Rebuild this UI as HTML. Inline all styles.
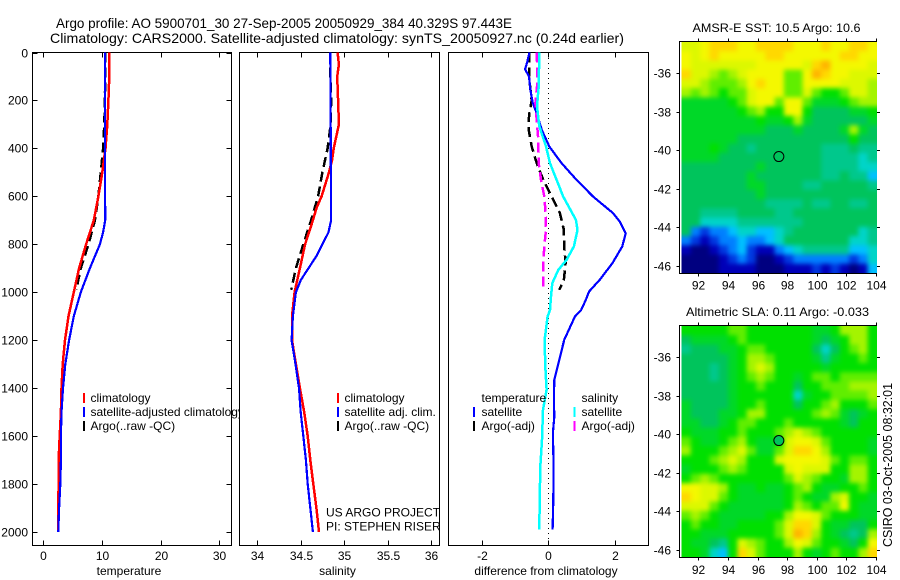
<!DOCTYPE html>
<html>
<head>
<meta charset="utf-8">
<title>Argo profile 5900701_30</title>
<style>
html,body{margin:0;padding:0;background:#fff;}
svg{display:block;}
text{font-family:"Liberation Sans",sans-serif;font-size:12px;fill:#000;}
</style>
</head>
<body>
<svg id="fig" xmlns="http://www.w3.org/2000/svg" width="900" height="580" viewBox="0 0 900 580">
<defs>
<filter id="mapBlur" x="-10%" y="-10%" width="120%" height="120%" color-interpolation-filters="sRGB"><feGaussianBlur stdDeviation="2.4"/></filter>
<clipPath id="clipSst"><rect x="681.5" y="42" width="195.5" height="231"/></clipPath>
<clipPath id="clipSla"><rect x="681.5" y="326" width="195.5" height="231"/></clipPath>
</defs>
<rect x="0" y="0" width="900" height="580" fill="#fff"/>
<text x="56" y="28" style="font-size:14px" textLength="456" lengthAdjust="spacingAndGlyphs">Argo profile: AO 5900701_30 27-Sep-2005 20050929_384 40.329S 97.443E</text>
<text x="50" y="43" style="font-size:14px" textLength="574" lengthAdjust="spacingAndGlyphs">Climatology: CARS2000. Satellite-adjusted climatology: synTS_20050927.nc (0.24d earlier)</text>
<text x="692.5" y="32" textLength="168" lengthAdjust="spacingAndGlyphs">AMSR-E SST: 10.5 Argo: 10.6</text>
<text x="686" y="316" textLength="183" lengthAdjust="spacingAndGlyphs">Altimetric SLA: 0.11 Argo: -0.033</text>
<text transform="translate(892,547) rotate(-90)" style="font-size:13px" textLength="164" lengthAdjust="spacingAndGlyphs">CSIRO 03-Oct-2005 08:32:01</text>
</svg>
<script>
// ---- depth axis ----
var depthTicks = [0,200,400,600,800,1000,1200,1400,1600,1800,2000];

// ---- temperature panel ----
var tempTicks = [0,10,20,30];
var tempClimDepth = [0,100,200,300,400,500,600,700,800,900,1000,1100,1200,1300,1400,1500,1600,1700,1800,1900,2000];
var tempClim = [11.25,11.25,11.1,10.9,10.6,10.05,9.4,8.6,7.3,6.1,5.2,4.3,3.7,3.3,3.1,3.0,2.8,2.6,2.6,2.55,2.55];
var tempSatDepth = [0,300,700,750,800,900,1000,1100,1200,1300,1400,1500,1600,1700,1800,1900,2000];
var tempSat = [10.5,10.5,10.55,10.2,9.65,7.95,6.4,5.2,4.4,3.75,3.35,3.1,3.0,3.0,2.9,2.7,2.55];
var tempArgoDepth = [0,100,200,300,400,500,600,700,800,900,990];
var tempArgo = [10.55,10.55,10.5,10.4,10.2,9.8,9.4,8.8,7.7,6.4,5.6];

// ---- salinity panel ----
var salTicks = [34,34.5,35,35.5,36];
var salClimDepth = [0,50,100,200,300,350,400,450,500,600,650,700,800,900,1000,1100,1200,1300,1400,1500,1600,1700,1800,1900,2000];
var salClim = [34.925,34.94,34.92,34.93,34.94,34.91,34.88,34.86,34.825,34.74,34.68,34.64,34.55,34.49,34.43,34.40,34.40,34.445,34.49,34.54,34.58,34.61,34.645,34.68,34.71];
var salSatDepth = [0,700,750,800,850,900,950,1000,1100,1200,1300,1400,1500,1600,1700,1800,1900,2000];
var salSat = [34.84,34.85,34.82,34.75,34.68,34.59,34.50,34.445,34.41,34.395,34.44,34.48,34.50,34.53,34.56,34.58,34.61,34.64];
var salArgoDepth = [0,100,200,300,400,500,600,700,800,900,990];
var salArgo = [34.84,34.84,34.85,34.845,34.81,34.75,34.70,34.62,34.53,34.445,34.39];

// ---- difference panel ----
var diffTicks = [-2,0,2];
var diffTempSatDepth = [0,37,70,100,155,210,253,322,392,462,531,601,670,705,754,809,879,948,997,1032,1074,1102,1199,1282,1366,1449,1519,1588,1727,1866,1991];
var diffTempSat = [-0.57,-0.63,-0.7,-0.58,-0.54,-0.47,-0.35,-0.2,0.03,0.4,0.85,1.35,1.95,2.15,2.33,2.23,1.93,1.55,1.23,1.13,0.99,0.80,0.48,0.33,0.18,0.17,0.18,0.14,0.16,0.15,0.13];
var diffSalSatDepth = [0,72,142,225,308,392,462,531,601,698,740,809,865,907,962,1018,1074,1102,1199,1310,1407,1491,1616,1727,1866,1991];
var diffSalSat = [-0.27,-0.28,-0.29,-0.34,-0.27,-0.07,0.05,0.25,0.45,0.83,0.88,0.77,0.55,0.3,0.12,0.08,0.05,-0.02,-0.11,-0.09,-0.05,-0.16,-0.19,-0.24,-0.26,-0.27];
var diffTempArgoDepth = [0,100,200,253,281,322,392,462,531,601,670,740,809,879,948,990];
var diffTempArgo = [-0.57,-0.58,-0.5,-0.57,-0.59,-0.59,-0.5,-0.35,-0.15,0.1,0.35,0.47,0.48,0.52,0.47,0.33];
var diffSalArgoDepth = [0,72,142,211,281,364,462,531,601,670,740,809,879,990];
var diffSalArgo = [-0.35,-0.33,-0.34,-0.39,-0.35,-0.3,-0.29,-0.22,-0.12,-0.08,-0.07,-0.12,-0.15,-0.16];

// ---- map axes ----
var lonTicks = [92,94,96,98,100,102,104];
var latTicks = [-36,-38,-40,-42,-44,-46];
var floatLon = 97.443;
var floatLat = -40.329;

// ---- SST map: colour-level per cell ----
var sstRows = [
[12,12,13,14,14,14,13,13,14,14,14,14,13,13,13,14,13,13,14,14,13],
[13,12,13,14,13,13,13,13,13,14,14,13,13,13,13,13,13,14,14,13,13],
[13,12,12,12,12,12,12,12,13,13,13,13,13,12,14,15,13,13,13,13,12],
[14,12,12,11,10,11,12,13,13,13,13,10,10,13,15,14,13,13,12,12,12],
[12,12,11,10,10,10,11,13,14,13,13,10,10,13,13,13,13,12,12,12,11],
[11,10,11,10,9,10,10,12,13,13,13,10,10,12,10,9,9,10,12,12,11],
[8,8,8,8,8,9,10,12,13,13,10,13,13,10,8,8,8,9,10,11,11],
[8,8,8,8,8,8,9,10,11,9,9,13,13,9,7,7,7,7,8,8,9],
[8,8,8,8,8,8,8,8,9,8,8,9,11,8,7,7,7,7,7,7,8],
[8,8,8,8,8,8,8,8,8,7,7,7,8,7,7,7,7,8,11,8,7],
[8,8,8,8,8,8,7,7,7,7,7,7,7,7,7,7,7,7,9,7,7],
[8,8,8,9,8,7,7,6,7,7,7,7,7,7,7,6,6,6,7,6,6],
[8,8,8,8,7,7,7,7,7,7,7,7,7,7,7,6,6,6,6,5,6],
[7,7,7,7,7,7,7,7,8,7,7,7,7,7,7,6,6,6,6,5,5],
[7,7,7,7,7,7,7,8,7,7,7,7,7,7,7,6,6,7,6,6,4],
[7,7,7,7,7,7,7,8,8,7,7,7,7,6,6,7,7,7,7,7,6],
[7,7,7,7,7,7,7,7,8,7,7,7,7,7,7,7,7,7,7,7,7],
[7,7,7,7,7,7,7,7,7,6,6,6,6,7,6,6,7,7,6,6,7],
[7,7,6,6,6,6,7,7,7,7,6,6,7,7,7,7,7,7,7,7,7],
[7,7,5,5,5,5,6,6,6,6,6,6,6,7,7,7,7,7,7,7,7],
[7,3,2,3,3,4,5,5,4,4,5,6,7,7,7,7,7,7,7,5,6],
[3,2,1,2,3,3,4,3,3,4,5,7,7,7,7,7,7,7,5,5,6],
[1,0,0,1,2,3,4,2,1,1,3,4,5,6,6,6,6,6,4,4,5],
[0,0,0,0,1,2,3,2,0,0,1,2,3,3,3,3,3,3,2,3,5],
[0,0,0,0,1,1,1,1,0,0,0,1,1,1,2,1,2,1,0,1,4]
];

// ---- SLA map: colour-level per cell ----
var slaRows = [
[9,9,9,9,9,10,10,9,9,9,9,9,9,9,8,8,9,11,11,11,9],
[7,8,8,8,8,9,10,9,9,9,9,9,9,9,8,7,8,9,11,11,9],
[6,7,7,7,8,8,9,10,10,9,9,9,9,9,7,5,7,9,10,11,9],
[7,7,7,7,7,8,9,11,11,10,9,9,9,9,8,6,8,9,9,10,9],
[7,7,7,6,7,8,9,11,12,11,9,9,9,9,9,8,9,9,9,9,9],
[7,7,7,6,7,8,9,10,11,10,9,9,8,9,10,10,9,10,10,10,10],
[7,7,7,7,7,8,9,9,10,9,9,9,7,9,9,10,10,10,11,11,11],
[7,7,7,7,7,8,9,9,9,9,9,9,5,8,9,9,10,10,10,10,11],
[8,7,7,7,7,8,9,9,10,9,9,9,7,9,9,10,11,9,9,9,10],
[8,7,7,7,8,8,9,11,11,9,9,9,9,9,10,11,10,8,7,8,9],
[8,8,7,7,8,9,10,10,9,9,9,10,9,9,9,9,9,8,7,9,9],
[9,8,8,8,9,9,10,9,9,9,10,11,12,11,10,9,9,9,9,9,9],
[10,9,8,8,9,10,11,9,8,8,9,12,13,13,12,10,9,9,9,9,8],
[11,9,9,9,10,11,12,10,8,8,10,12,14,14,13,11,9,9,9,9,8],
[9,9,9,10,11,12,11,9,9,9,12,13,13,13,13,12,10,9,10,10,9],
[8,9,9,9,10,11,10,9,9,9,9,12,13,12,12,12,9,9,11,11,9],
[9,10,11,10,9,9,9,9,9,9,9,10,12,11,10,9,9,8,11,11,9],
[13,13,12,12,11,9,8,8,9,8,8,9,10,11,9,8,8,9,9,10,9],
[14,13,12,12,10,9,8,8,8,8,8,9,10,9,8,8,11,12,9,9,8],
[12,12,12,10,9,8,8,8,8,8,8,9,11,10,9,10,10,13,9,8,8],
[10,11,10,9,8,8,8,8,8,9,9,11,13,13,12,10,9,9,9,8,8],
[9,10,9,9,8,8,9,9,9,9,10,12,14,14,12,9,8,8,7,7,9],
[9,9,8,8,8,9,9,9,9,9,10,12,15,14,11,9,8,7,6,7,11],
[9,8,8,7,6,9,12,11,10,9,9,11,13,12,10,9,9,8,7,9,13],
[9,9,8,5,4,9,14,12,10,9,9,9,11,9,8,9,10,9,9,11,14]
];

var colorLevels = ['#000080','#0000b8','#0038e0','#0080ff','#00c0ff','#00d4c8','#00c88c','#00c45c','#00d828','#00e000','#60ee00','#a4f400','#dcf800','#f4f800','#ffd800','#ffb400'];

var NS = 'http://www.w3.org/2000/svg';
var fig = document.getElementById('fig');

function mk(tag, attrs, parent) {
  var el = document.createElementNS(NS, tag);
  for (var k in attrs) el.setAttribute(k, attrs[k]);
  (parent || fig).appendChild(el);
  return el;
}
function yDepth(d) { return 52.5 + d * 0.2397; }
function xTemp(v) { return 43.3 + v * 5.867; }
function xSal(v) { return 257.3 + (v - 34) * 86.85; }
function xDiff(v) { return 548.3 + v * 33.2; }
function xLon(v) { return 698.3 + (v - 92) * 14.8; }
function ySst(v) { return 73 + (-36 - v) * 19.3; }
function ySla(v) { return 357 + (-36 - v) * 19.3; }

function drawProfile(depths, values, xFn, color, width, dashed, name) {
  var pts = depths.map(function (d, i) { return xFn(values[i]).toFixed(1) + ',' + yDepth(d).toFixed(1); }).join(' ');
  var el = mk('polyline', {points: pts, fill: 'none', stroke: color, 'stroke-width': width, 'shape-rendering': 'crispEdges'});
  if (dashed) el.setAttribute('stroke-dasharray', '10 5');
  
  
}

function drawPanel(left, right, ticks, xFn, xlabel, labelX, name) {
  var bg = mk('rect', {x: left, y: 52.5, width: right - left, height: 493, fill: '#fff', stroke: '#000', 'stroke-width': 1, 'shape-rendering': 'crispEdges'});
  
  
  ticks.forEach(function (t) {
    var x = Math.round(xFn(t)) + 0.5;
    var tk = mk('path', {d: 'M' + x + ' 52.5v5M' + x + ' 545.5v-5', stroke: '#000', fill: 'none', 'shape-rendering': 'crispEdges'});
    
    
    var lb = mk('text', {x: x, y: 560, 'text-anchor': 'middle'});
    lb.textContent = String(t);
    
    
  });
  var xl = mk('text', {x: labelX, y: 575, 'text-anchor': 'middle'});
  xl.textContent = xlabel;
  
  
}

function legendRow(barX, textX, rowY, color, label, name) {
  if (color) {
    var b = mk('rect', {x: barX, y: rowY - 5, width: 2, height: 10, fill: color, 'shape-rendering': 'crispEdges'});
    
    
  }
  var t = mk('text', {x: textX, y: rowY + 4});
  t.textContent = label;
  
  
}

// ---- panel 1: temperature ----
drawPanel(32.5, 231.5, tempTicks, xTemp, 'temperature', 129, 'temperature-panel');
depthTicks.forEach(function (d) {
  var y = Math.round(yDepth(d)) + 0.5;
  var tk = mk('path', {d: 'M32.5 ' + y + 'h5M231.5 ' + y + 'h-5', stroke: '#000', fill: 'none', 'shape-rendering': 'crispEdges'});
  
  
  var lb = mk('text', {x: 28, y: y + 4, 'text-anchor': 'end'});
  lb.textContent = String(d);
  
  
});
drawProfile(tempArgoDepth, tempArgo, xTemp, '#000', 2.5, true, 'temperature-argo-line');
drawProfile(tempClimDepth, tempClim, xTemp, '#f00', 2.5, false, 'temperature-climatology-line');
drawProfile(tempSatDepth, tempSat, xTemp, '#00f', 2.2, false, 'temperature-satellite-line');
legendRow(83, 90.5, 398, '#f00', 'climatology', 'temperature-legend-climatology');
legendRow(83, 90.5, 412, '#00f', 'satellite-adjusted climatology', 'temperature-legend-satellite');
legendRow(83, 90.5, 426, '#000', 'Argo(..raw -QC)', 'temperature-legend-argo');

// ---- panel 2: salinity ----
drawPanel(239.5, 439.5, salTicks, xSal, 'salinity', 337.5, 'salinity-panel');
drawProfile(salArgoDepth, salArgo, xSal, '#000', 2.5, true, 'salinity-argo-line');
drawProfile(salClimDepth, salClim, xSal, '#f00', 2.5, false, 'salinity-climatology-line');
drawProfile(salSatDepth, salSat, xSal, '#00f', 2.2, false, 'salinity-satellite-line');
legendRow(337, 344.5, 398, '#f00', 'climatology', 'salinity-legend-climatology');
legendRow(337, 344.5, 412, '#00f', 'satellite adj. clim.', 'salinity-legend-satellite');
legendRow(337, 344.5, 426, '#000', 'Argo(..raw -QC)', 'salinity-legend-argo');
var credit1 = mk('text', {x: 326, y: 516.5});
credit1.textContent = 'US ARGO PROJECT';


var credit2 = mk('text', {x: 326, y: 530.5});
credit2.textContent = 'PI: STEPHEN RISER';



// ---- panel 3: difference ----
drawPanel(448.5, 648.5, diffTicks, xDiff, 'difference from climatology', 546, 'difference-panel');
var zero = mk('line', {x1: xDiff(0), y1: 53, x2: xDiff(0), y2: 545, stroke: '#000', 'stroke-width': 1, 'stroke-dasharray': '1 4', 'shape-rendering': 'crispEdges'});


drawProfile(diffTempArgoDepth, diffTempArgo, xDiff, '#000', 2.5, true, 'difference-temperature-argo-line');
drawProfile(diffTempSatDepth, diffTempSat, xDiff, '#00f', 2.2, false, 'difference-temperature-satellite-line');
drawProfile(diffSalArgoDepth, diffSalArgo, xDiff, '#f0f', 2.5, true, 'difference-salinity-argo-line');
drawProfile(diffSalSatDepth, diffSalSat, xDiff, '#0ff', 2.5, false, 'difference-salinity-satellite-line');
legendRow(473, 481.5, 398, null, 'temperature', 'difference-legend-temperature-heading');
legendRow(473, 481.5, 412, '#00f', 'satellite', 'difference-legend-temperature-satellite');
legendRow(473, 481.5, 426, '#000', 'Argo(-adj)', 'difference-legend-temperature-argo');
legendRow(573.5, 581.5, 398, null, 'salinity', 'difference-legend-salinity-heading');
legendRow(573.5, 581.5, 412, '#0ff', 'satellite', 'difference-legend-salinity-satellite');
legendRow(573.5, 581.5, 426, '#f0f', 'Argo(-adj)', 'difference-legend-salinity-argo');

// ---- maps ----
function drawMap(rows, top, bottom, yFn, labelY, name, circleFill, clipId) {
  var left = 681.5, right = 877;
  var cw = (right - left) / rows[0].length, ch = (bottom - top) / rows.length;
  var clipGroup = mk('g', {'clip-path': 'url(#' + clipId + ')'});
  
  
  var blurGroup = mk('g', {filter: 'url(#mapBlur)'}, clipGroup);
  
  
  var pad = 12;
  rows.forEach(function (row, r) {
    row.forEach(function (level, c) {
      // border cells bleed outward so the smoothing does not fade at the clip edge
      var x0 = left + c * cw - (c === 0 ? pad : 0);
      var y0 = top + r * ch - (r === 0 ? pad : 0);
      var x1 = left + (c + 1) * cw + (c === row.length - 1 ? pad : 0.4);
      var y1 = top + (r + 1) * ch + (r === rows.length - 1 ? pad : 0.4);
      var cell = mk('rect', {x: x0.toFixed(2), y: y0.toFixed(2), width: (x1 - x0).toFixed(2), height: (y1 - y0).toFixed(2), fill: colorLevels[level]}, blurGroup);
      
      
    });
  });
  var fr = mk('path', {d: 'M877 ' + (top - 0.5) + 'H679.5V' + (bottom + 0.5) + 'H877', fill: 'none', stroke: '#000', 'shape-rendering': 'crispEdges'});
  
  
  lonTicks.forEach(function (t) {
    var x = Math.round(xLon(t)) + 0.5;
    var tk = mk('path', {d: 'M' + x + ' ' + (top - 0.5) + 'v-3M' + x + ' ' + (bottom + 0.5) + 'v3', stroke: '#000', fill: 'none', 'shape-rendering': 'crispEdges'});
    
    
    var lb = mk('text', {x: x, y: labelY, 'text-anchor': 'middle'});
    lb.textContent = String(t);
    
    
  });
  latTicks.forEach(function (t) {
    var y = Math.round(yFn(t)) + 0.5;
    var tk = mk('path', {d: 'M679.5 ' + y + 'h-3M877 ' + y + 'h3', stroke: '#000', fill: 'none', 'shape-rendering': 'crispEdges'});
    
    
    var lb = mk('text', {x: 671, y: y + 4, 'text-anchor': 'end'});
    lb.textContent = String(t);
    
    
  });
  var mark = mk('circle', {cx: xLon(floatLon), cy: yFn(floatLat), r: 5, fill: circleFill, stroke: '#000', 'stroke-width': 1});
  
  
}
drawMap(sstRows, 42, 273, ySst, 289.5, 'sst-map', 'none', 'clipSst');
drawMap(slaRows, 326, 557, ySla, 574, 'sla-map', '#00c45c', 'clipSla');
</script>
</body>
</html>
